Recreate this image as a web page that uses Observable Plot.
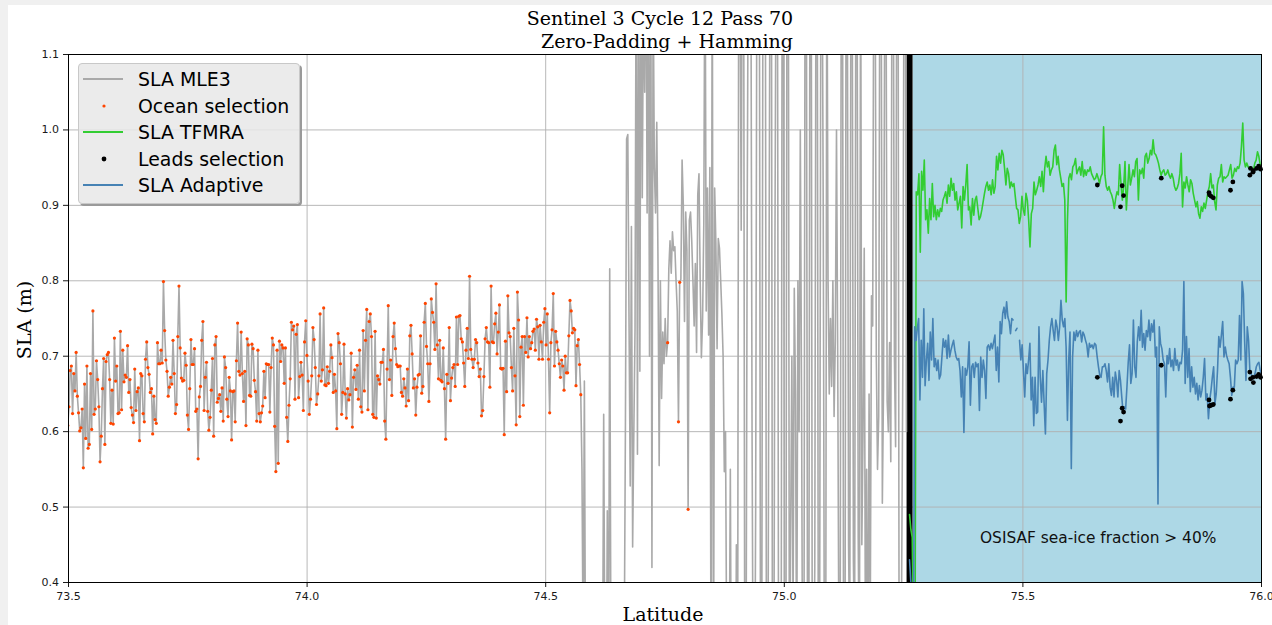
<!DOCTYPE html>
<html><head><meta charset="utf-8">
<script src="https://cdn.jsdelivr.net/npm/d3@7"></script>
<script src="https://cdn.jsdelivr.net/npm/@observablehq/plot@0.6"></script>
<style>
html,body{margin:0;padding:0;background:#f0f0f0;overflow:hidden;width:1272px;height:625px;}
#page{position:absolute;left:8px;top:5px;width:1264px;height:620px;background:#fff;}
#chart{position:absolute;left:0;top:0;}
.serif{position:absolute;font-family:"DejaVu Serif",serif;font-size:19px;line-height:19px;color:#000;white-space:pre;}
#legend{position:absolute;left:78px;top:63px;width:220px;height:139px;background:rgba(232,232,232,0.85);border:1px solid #c8c8c8;border-radius:4px;box-shadow:2px 2px 0 #9a9a9a;}
.lrow{position:absolute;left:0;height:26px;width:220px;}
.ltxt{position:absolute;left:59px;top:0;font-family:"DejaVu Sans",sans-serif;font-size:18.9px;line-height:26px;color:#000;white-space:pre;}
#note{position:absolute;font-family:"DejaVu Sans",sans-serif;font-size:15.4px;line-height:15.4px;color:#111;white-space:pre;}
</style></head>
<body>
<div id="page"></div>
<div id="chart"></div>
<div id="t1" class="serif"></div>
<div id="t2" class="serif"></div>
<div id="ylab" class="serif"></div>
<div id="xlab" class="serif"></div>
<div id="legend"></div>
<div id="note"></div>
<script>
// ---------------- data ----------------
const titleLines = ["Sentinel 3 Cycle 12 Pass 70", " Zero-Padding + Hamming"];
const xLabel = "Latitude";
const yLabel = "SLA (m)";
const noteText = "OSISAF sea-ice fraction > 40%";
const legendLabels = ["SLA MLE3", "Ocean selection", "SLA TFMRA", "Leads selection", "SLA Adaptive"];
const xTicks = [73.5, 74.0, 74.5, 75.0, 75.5, 76.0];
const yTicks = [0.4, 0.5, 0.6, 0.7, 0.8, 0.9, 1.0, 1.1];

// sea-ice region (latitude bounds) and ice-edge marker latitude
const iceRegion = [75.27, 76.0];
const iceEdgeLat = 75.2625;

// along-track latitude ranges of each segment
const oceanLatRange = [73.4985, 74.5735];
const coastLatRange = [74.576, 75.256];
const iceLatRange = [75.2625, 76.0];

// SLA MLE3, open-ocean segment
const mle3Ocean = [
.608,.633,.681,.687,.624,.677,.654,.705,.647,.625,
.601,.605,.630,.552,.663,.591,.687,.578,.583,.677,
.603,.760,.623,.630,.694,.669,.633,.560,.594,.657,
.697,.583,.693,.702,.705,.669,.611,.655,.610,.724,
.667,.687,.624,.625,.733,.629,.708,.666,.675,.672,
.714,.652,.669,.632,.622,.612,.683,.628,.653,.658,
.588,.677,.674,.624,.613,.696,.719,.685,.676,.652,
.657,.597,.647,.616,.611,.718,.690,.690,.708,.691,
.799,.734,.695,.680,.647,.659,.672,.663,.721,.677,
.624,.636,.726,.793,.711,.671,.667,.668,.704,.688,
.622,.603,.657,.722,.689,.689,.710,.627,.630,.564,
.646,.660,.721,.746,.628,.672,.692,.627,.602,.619,
.655,.697,.594,.715,.726,.639,.644,.649,.627,.658,
.614,.699,.685,.643,.620,.672,.654,.589,.653,.654,
.613,.694,.744,.680,.675,.732,.677,.640,.680,.608,
.723,.715,.648,.647,.716,.710,.668,.653,.614,.708,
.624,.613,.625,.634,.680,.645,.690,.689,.689,.626,
.685,.724,.715,.607,.547,.708,.558,.720,.693,.715,
.711,.664,.711,.619,.587,.635,.670,.745,.735,.740,
.643,.729,.742,.645,.673,.692,.675,.628,.719,.747,
.701,.667,.623,.643,.674,.738,.722,.685,.636,.650,
.674,.756,.667,.682,.764,.662,.661,.686,.664,.680,
.715,.698,.652,
.676,.654,.604,.730,.718,.690,.623,.652,.716,.650,
.618,.657,.642,.649,.704,.606,.672,.682,.656,.688,
.643,.708,.633,.626,.734,.654,.721,.762,.629,.746,
.756,.726,.623,.619,.733,.618,.674,.669,.663,.692,
.692,.709,.614,.590,.683,.767,.669,.695,.648,.726,
.744,.710,.689,.686,.687,.687,.652,.647,.670,.658,
.634,.683,.641,.727,.741,.703,.658,.670,.622,.659,
.675,.676,.727,.651,.660,.745,.770,.713,.690,.640,
.690,.776,.758,.745,.709,.796,.715,.670,.721,.668,
.666,.711,.657,.590,.676,.664,.738,.641,.671,.685,
.689,.660,.752,.689,.753,.754,.723,.719,.691,.660,
.708,.737,.697,.806,.709,.696,.685,.696,.722,.718,
.691,.673,.683,.621,.628,.673,.723,.738,.719,.718,
.659,.793,.719,.718,.743,.757,.703,.732,.768,.684,
.683,.684,.596,.720,.653,.780,.731,.726,.685,.654,
.737,.674,.609,.785,.748,.620,.712,.726,.635,.726,
.705,.751,.699,.726,.710,.718,.733,.736,.708,.749,
.739,.696,.741,.719,.696,.745,.763,.715,.756,.696,
.625,.718,.735,.783,.687,.733,.719,.708,.690,.672,
.695,.687,.655,.700,.678,.678,.727,.774,.760,.731,
.737,.735,.661,.714,.722,.689,.649];

// SLA MLE3, coastal / marginal-ice segment (very noisy, often off the axis range)
const mle3Coast = [
.55,.30,
.667,.25,.15,
.10,.22,.05,.18,.30,.12,.25,.08,.20,.28,.15,.10,.24,
.623,.28,.15,
.495,.20,
.816,.30,.18,
.12,.25,.05,.20,.30,.10,.22,.15,.28,
.30,.60,.988,.994,
.75,.528,.872,.447,.60,
.737,1.30,.570,1.25,.68,1.30,.91,1.20,1.05,1.30,.89,1.25,.70,1.30,.42,
1.20,.95,.89,1.01,.83,
.555,.80,.644,.732,.69,.75,.70,.718,
.816,.853,.81,.865,.84,.845,.80,.76,.613,.798,
.802,.96,.90,.746,.891,.84,.497,.88,.891,.853,
.80,.74,.823,.705,.914,.942,.80,.698,.75,.877,
1.30,.76,.923,.728,.95,.25,1.30,.20,.923,.85,
.71,.856,.843,.80,.756,.70,.547,.60,.30,.20,
.25,.55,.15,.20,.30,.10,.45,.22,1.30,1.25,
.867,1.30,1.28,.20,.25,.90,1.30,1.32,1.25,.60,
.20,.15,.50,1.25,1.30,1.28,.30,.25,1.20,1.30,
1.25,.20,.15,.765,1.30,1.32,.15,.20,.86,1.30,
1.28,.25,.20,.10,1.30,1.25,.15,.20,1.30,1.35,
.20,.47,.70,.35,.79,.65,.25,.80,.60,1.00,
.66,.20,.25,1.30,1.25,.30,.20,1.25,1.30,.20,
.25,.42,1.25,1.30,.20,.30,1.20,1.28,.90,.25,
.20,1.30,.80,.65,.75,.66,.80,.62,.72,1.00,
.70,.30,.25,1.30,1.25,.10,.20,1.30,1.20,.45,
.30,1.30,1.25,.43,.30,1.20,1.30,.46,.25,1.30,
.45,.60,.843,.30,.55,.20,.65,.35,.78,.74,
1.30,1.25,.70,.55,.62,1.30,1.28,.505,.66,1.20,
1.25,.64,.60,.718,.56,1.25,1.30,.70,.58,1.30,
1.30,.20,.25,.40,.69,1.25,1.30,.60];
// samples of the coastal segment that passed the ocean selection
const coastOceanSelIdx = [71, 80, 81, 88];

// SLA TFMRA (sea-ice segment)
const tfmra = [.49,.47,.46,.30,.25,
.918,.914,.942,.838,.945,.920,.960,.881,.894,.863,
.909,.881,.929,.885,.900,.881,.894,.885,.896,.892,
.907,.912,.918,.903,.927,.912,.936,.920,.929,.907,
.918,.894,.903,.912,.870,.925,.907,.927,.954,.894,
.898,.874,.909,.887,.907,.912,.896,.881,.885,.894,
.905,.916,.925,.931,.920,.927,.914,.934,.916,.925,
.965,.947,.969,.956,.973,.967,.949,.927,.949,.942,
.923,.931,.925,.929,.912,.896,.894,.876,.885,.912,
.894,.887,.916,.907,.881,.845,.889,.896,.931,.914,
.920,.927,.938,.925,.945,.918,.949,.965,.951,.958,
.940,.947,.951,.973,.980,.954,.965,.947,.936,.925,
.929,.907,.772,.881,.936,.942,.934,.951,.954,.962,
.942,.947,.951,.940,.958,.938,.947,.940,.947,.945,
.951,.942,.938,.934,.936,.942,.936,.929,.938,.942,
1.004,.940,.925,.920,.925,.918,.914,.907,.896,.909,
.918,.914,.954,.929,.907,.925,.958,.894,.923,.954,
.927,.936,.947,.938,.958,.962,.907,.947,.942,.949,
.936,.965,.969,.956,.962,.973,.967,.987,.969,.967,
.962,.956,.947,.940,.945,.947,.940,.942,.947,.940,
.936,.942,.936,.925,.920,.923,.929,.942,.969,.898,
.931,.923,.938,.927,.918,.934,.929,.916,.907,.898,
.905,.889,.883,.898,.892,.903,.896,.907,.918,.925,
.942,.923,.927,.905,.894,.927,.936,.938,.954,.931,
.938,.936,.938,.940,.947,.954,.936,.940,.949,.945,
.951,.949,.956,.978,1.009,.960,.951,.956,.951,.949,
.951,.949,.947,.956,.960,.971,.965,.954,.951];

// SLA Adaptive (sea-ice segment); null = missing sample
const adaptive = [.43,.40,.35,.30,
.739,.721,.737,.750,.642,.721,.672,.763,.661,.695,
.717,.668,.732,.695,.750,.686,.697,.681,.695,.670,
.675,.699,.723,.712,.721,.697,.728,.699,.708,.715,
.721,.708,.699,.695,.697,.681,.646,.686,.599,.684,
.675,.686,.719,.635,.686,.690,.672,.692,.686,.690,
.628,.699,.672,.695,.681,.644,.712,.715,.708,.717,
.710,.719,.728,.681,.712,.666,.746,.730,.757,.765,
.750,.772,.752,.746,.730,.750,.748,null,.734,.737,
null,.721,.695,.715,.681,.646,.690,.677,.695,.717,
.642,.672,.608,.672,.624,.626,.739,.672,.639,.681,
.637,.597,.677,.695,.721,.739,.750,.734,.721,.748,
.739,.721,.739,.774,.748,.739,.750,.712,.615,.695,
.732,.551,.699,.732,.721,.734,.726,.732,.734,.719,
.732,.728,.721,.715,.699,.717,.712,.715,.710,.717,
.715,.699,.686,.675,.672,.686,.686,.690,.681,.666,
.690,.659,.648,.672,.646,.679,.668,.646,.681,.668,
.646,.626,.633,.630,.659,.692,.715,.664,.677,.748,
.686,.672,.719,.739,.721,.761,.712,.730,.708,.734,
.726,.748,.721,.743,.732,.748,.699,.712,.504,.739,
.717,.710,.695,.690,.646,.701,.690,.710,.686,.695,
.681,.710,.688,.695,.681,.692,.690,.708,.799,.664,
.726,.672,.710,.653,.686,.659,.672,.650,.664,.642,
.661,.646,.655,.672,.697,.642,.650,.617,.642,.655,
.672,.686,.637,.650,.681,.726,.712,.728,.746,.699,
.712,.701,.695,.690,.672,.648,.659,.659,.695,.690,
.695,.754,.695,.799,.783,.719,.668,.739,.721,.681,
.677,.670,.672,.677,.686,.690,.692,.681,.677];

// Leads selection
const leadLat = [75.656,75.7045,75.708,75.711,75.790,75.890,75.891,75.8945,75.899,75.935,75.940,75.9755,75.977,75.982,75.983,75.9895,75.994,75.998];
const leadTfmra = [.927,.898,.926,.913,.936,.917,.914,.912,.910,.920,.931,.940,.949,.944,.946,.949,.952,.948];
const leadAdaptive = [.672,.614,.631,.626,.688,.642,.634,.635,.636,.643,.655,.679,.670,.672,.665,.673,.676,.672];

// ---------------- build tables ----------------
function track(values, range) {
  const n = values.length;
  return values.map((v, i) => ({lat: range[0] + (range[1] - range[0]) * i / (n - 1), sla: v == null ? NaN : v}));
}
const oceanRows = track(mle3Ocean, oceanLatRange);
const coastRows = track(mle3Coast, coastLatRange);
const mle3Rows = oceanRows.concat(coastRows);
const oceanSel = oceanRows.concat(coastOceanSelIdx.map(i => coastRows[i]));
const tfmraRows = track(tfmra, iceLatRange);
const adaptiveRows = track(adaptive, iceLatRange);
const leadsT = leadLat.map((lat, i) => ({lat, sla: leadTfmra[i]}));
const leadsA = leadLat.map((lat, i) => ({lat, sla: leadAdaptive[i]}));

const C = {grey: "#a9a9a9", orange: "#ff4500", green: "#32cd32", blue: "#4682b4", ice: "#add8e6", grid: "#b0b0b0"};

const chart = Plot.plot({
  width: 1272, height: 625,
  marginLeft: 68, marginRight: 11, marginTop: 54, marginBottom: 43,
  style: {background: "none", fontFamily: "'DejaVu Sans', sans-serif", fontSize: "11px", color: "#1a1a1a"},
  x: {domain: [73.5, 76.0], ticks: xTicks, tickFormat: d3.format(".1f"), tickSize: 5, tickPadding: 4.5, label: null},
  y: {domain: [0.4, 1.1], ticks: yTicks, tickFormat: d3.format(".1f"), tickSize: 5, tickPadding: 4.5, label: null},
  marks: [
    Plot.rect([iceRegion], {x1: d => d[0], x2: d => d[1], fill: C.ice}),
    Plot.ruleX(xTicks, {stroke: C.grid, strokeWidth: 0.9}),
    Plot.ruleY(yTicks, {stroke: C.grid, strokeWidth: 0.9}),
    Plot.ruleX([iceEdgeLat], {stroke: "black", strokeWidth: 6}),
    Plot.line(mle3Rows, {x: "lat", y: "sla", stroke: C.grey, strokeWidth: 1.6, clip: true}),
    Plot.dot(oceanSel, {x: "lat", y: "sla", r: 1.6, fill: C.orange, stroke: null, clip: true}),
    Plot.line(tfmraRows, {x: "lat", y: "sla", stroke: C.green, strokeWidth: 1.6, clip: true}),
    Plot.dot(leadsT, {x: "lat", y: "sla", r: 2.4, fill: "black", stroke: null}),
    Plot.line(adaptiveRows, {x: "lat", y: "sla", stroke: C.blue, strokeWidth: 1.6, clip: true}),
    Plot.dot(leadsA, {x: "lat", y: "sla", r: 2.4, fill: "black", stroke: null}),
    Plot.frame({stroke: "black", strokeWidth: 1})
  ]
});
document.getElementById("chart").appendChild(chart);

// ---------------- texts ----------------
function place(id, text, left, top, extra) {
  const el = document.getElementById(id);
  el.textContent = text;
  el.style.left = left + "px";
  el.style.top = top + "px";
  if (extra) el.style.transform = extra;
}
place("t1", titleLines[0], 660, 9, "translateX(-50%)");
place("t2", titleLines[1], 664, 32, "translateX(-50%)");
place("xlab", xLabel, 663, 605, "translateX(-50%)");
place("ylab", yLabel, 24, 320, "translate(-50%,-50%) rotate(-90deg)");
place("note", noteText, 980, 531);

// legend
const legend = document.getElementById("legend");
const kinds = [
  {type: "line", color: C.grey}, {type: "dot", color: C.orange, r: 1.6},
  {type: "line", color: C.green}, {type: "dot", color: "black", r: 2.4},
  {type: "line", color: C.blue}
];
const rowCenters = [15.3, 42, 68, 95, 121];
legendLabels.forEach((lab, i) => {
  const row = document.createElement("div");
  row.className = "lrow";
  row.style.top = (rowCenters[i] - 13) + "px";
  const k = kinds[i];
  const sw = k.type === "line"
    ? `<svg width="60" height="26" style="position:absolute;left:0;top:0"><line x1="4" x2="44" y1="13" y2="13" stroke="${k.color}" stroke-width="1.8"/></svg>`
    : `<svg width="60" height="26" style="position:absolute;left:0;top:0"><circle cx="25" cy="13" r="${k.r}" fill="${k.color}"/></svg>`;
  row.innerHTML = sw + `<span class="ltxt"></span>`;
  row.querySelector(".ltxt").textContent = lab;
  legend.appendChild(row);
});
</script>
</body></html>
